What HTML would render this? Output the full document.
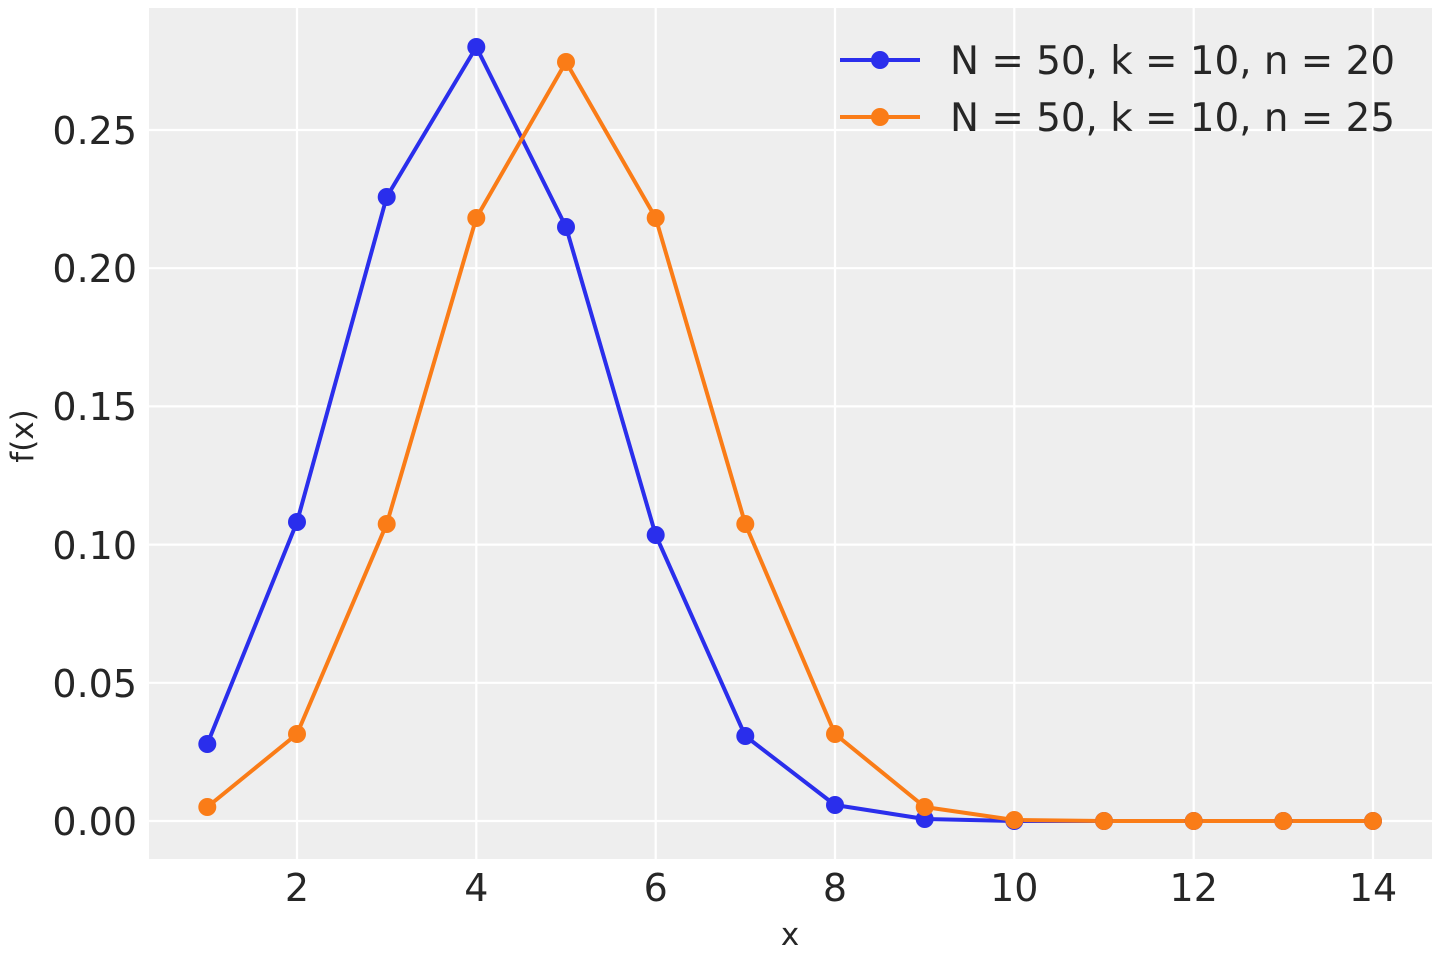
<!DOCTYPE html>
<html><head><style>
html,body{margin:0;padding:0;background:#fff;}
svg text{font-family:"DejaVu Sans","Liberation Sans",sans-serif;fill:#262626;}
</style></head><body>
<svg width="1440" height="960" xmlns="http://www.w3.org/2000/svg">
<rect x="149" y="8" width="1283" height="851" fill="#eeeeee"/>
<g stroke="#ffffff" stroke-width="2.2">
<line x1="297" y1="8" x2="297" y2="859"/><line x1="476.3" y1="8" x2="476.3" y2="859"/>
<line x1="655.7" y1="8" x2="655.7" y2="859"/><line x1="835" y1="8" x2="835" y2="859"/>
<line x1="1014.3" y1="8" x2="1014.3" y2="859"/><line x1="1193.7" y1="8" x2="1193.7" y2="859"/>
<line x1="1373" y1="8" x2="1373" y2="859"/>
<line x1="149" y1="821" x2="1432" y2="821"/><line x1="149" y1="682.8" x2="1432" y2="682.8"/>
<line x1="149" y1="544.6" x2="1432" y2="544.6"/><line x1="149" y1="406.4" x2="1432" y2="406.4"/>
<line x1="149" y1="268.2" x2="1432" y2="268.2"/><line x1="149" y1="130" x2="1432" y2="130"/>
</g>
<g font-size="38" text-anchor="end">
<text x="137" y="835">0.00</text><text x="137" y="697">0.05</text><text x="137" y="559">0.10</text>
<text x="137" y="420">0.15</text><text x="137" y="282">0.20</text><text x="137" y="144">0.25</text>
</g>
<g font-size="38" text-anchor="middle">
<text x="297" y="901">2</text><text x="476.3" y="901">4</text><text x="655.7" y="901">6</text>
<text x="835" y="901">8</text><text x="1014.3" y="901">10</text><text x="1193.7" y="901">12</text><text x="1373" y="901">14</text>
</g>
<text x="790" y="945" font-size="31" text-anchor="middle">x</text>
<text transform="translate(33,436) rotate(-90)" font-size="31" text-anchor="middle">f(x)</text>
<g fill="none" stroke-width="4" stroke-linejoin="round">
<polyline stroke="#2a2eec" points="207.3,744 297,522 386.7,197 476.3,47 566,227 655.7,535 745.3,736 835,805 924.7,819 1014.3,821 1104,821 1193.7,821 1283.3,821 1373,821"/>
<polyline stroke="#fa7c17" points="207.3,807 297,734 386.7,524 476.3,218 566,62 655.7,218 745.3,524 835,734 924.7,807 1014.3,820 1104,821 1193.7,821 1283.3,821 1373,821"/>
</g>
<g fill="#2a2eec">
<circle cx="207.3" cy="744" r="9"/><circle cx="297" cy="522" r="9"/><circle cx="386.7" cy="197" r="9"/><circle cx="476.3" cy="47" r="9"/><circle cx="566" cy="227" r="9"/><circle cx="655.7" cy="535" r="9"/><circle cx="745.3" cy="736" r="9"/><circle cx="835" cy="805" r="9"/><circle cx="924.7" cy="819" r="9"/><circle cx="1014.3" cy="821" r="9"/><circle cx="1104" cy="821" r="9"/><circle cx="1193.7" cy="821" r="9"/><circle cx="1283.3" cy="821" r="9"/><circle cx="1373" cy="821" r="9"/>
</g>
<g fill="#fa7c17">
<circle cx="207.3" cy="807" r="9"/><circle cx="297" cy="734" r="9"/><circle cx="386.7" cy="524" r="9"/><circle cx="476.3" cy="218" r="9"/><circle cx="566" cy="62" r="9"/><circle cx="655.7" cy="218" r="9"/><circle cx="745.3" cy="524" r="9"/><circle cx="835" cy="734" r="9"/><circle cx="924.7" cy="807" r="9"/><circle cx="1014.3" cy="820" r="9"/><circle cx="1104" cy="821" r="9"/><circle cx="1193.7" cy="821" r="9"/><circle cx="1283.3" cy="821" r="9"/><circle cx="1373" cy="821" r="9"/>
</g>
<line x1="840" y1="60" x2="920" y2="60" stroke="#2a2eec" stroke-width="4"/>
<circle cx="880" cy="60" r="9" fill="#2a2eec"/>
<line x1="840" y1="117" x2="920" y2="117" stroke="#fa7c17" stroke-width="4"/>
<circle cx="880" cy="117" r="9" fill="#fa7c17"/>
<text x="950" y="74" font-size="39" textLength="445" lengthAdjust="spacingAndGlyphs">N = 50, k = 10, n = 20</text>
<text x="950" y="131" font-size="39" textLength="445" lengthAdjust="spacingAndGlyphs">N = 50, k = 10, n = 25</text>
</svg>
</body></html>
